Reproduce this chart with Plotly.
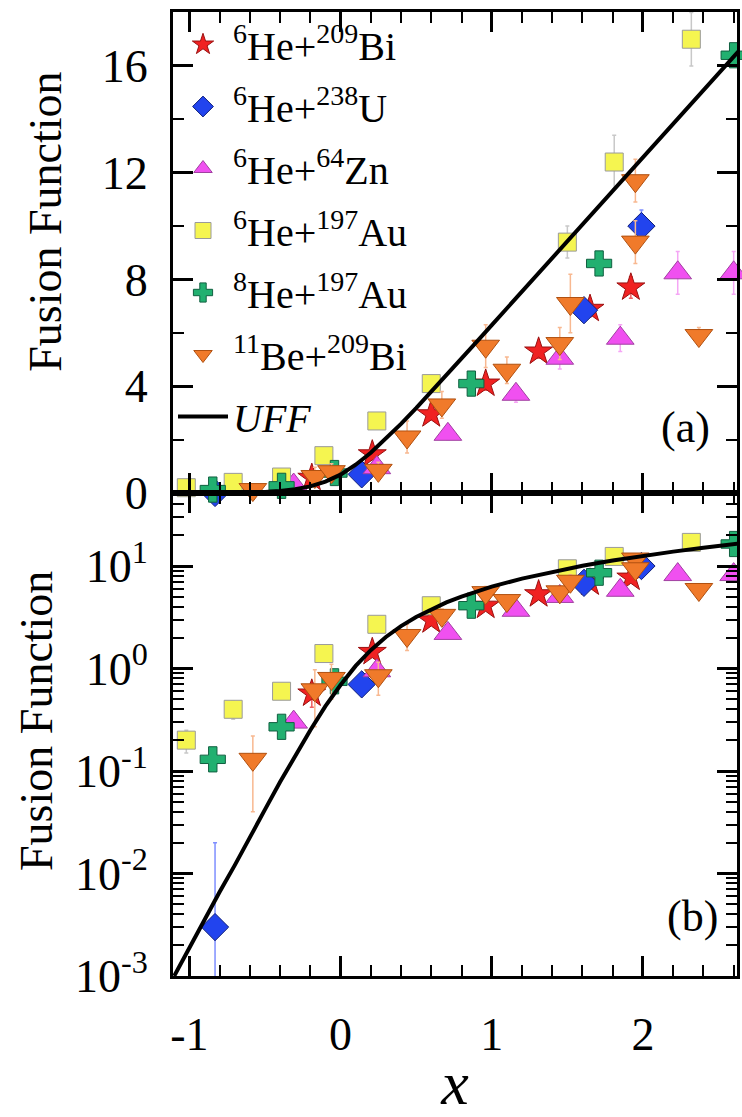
import plotly.graph_objects as go

# ---------------- data ----------------
bi_x = [-0.19, 0.21, 0.60, 0.96, 1.31, 1.65, 1.92]
bi_y = [0.57, 1.45, 2.95, 4.1, 5.3, 6.9, 7.7]
bi_e = [0.15, 0.15, 0.2, 0.25, 0.25, 0.3, 0.4]

u_x = [-0.83, 0.14, 1.61, 1.99]
u_y = [0.003, 0.70, 6.85, 10.0]
u_ep = [0.017, 0.08, 0.3, 0.6]
u_em = [0.0029, 0.08, 0.3, 0.6]

zn_x = [-0.31, 0.24, 0.71, 1.16, 1.45, 1.85, 2.23, 2.60]
zn_y = [0.30, 0.95, 2.2, 3.7, 5.05, 5.8, 8.25, 8.25]
zn_e = [0.03, 0.1, 0.2, 0.3, 0.4, 0.5, 0.8, 0.8]

au6_x = [-1.02, -0.71, -0.39, -0.11, 0.24, 0.60, 1.50, 1.81, 2.32]
au6_y = [0.2, 0.4, 0.6, 1.4, 2.7, 4.1, 9.4, 12.4, 17.0]
au6_e = [0.05, 0.08, 0.1, 0.15, 0.2, 0.3, 0.6, 1.0, 1.0]

au8_x = [-0.845, -0.39, -0.04, 0.865, 1.71, 2.60]
au8_y = [0.13, 0.27, 0.75, 4.1, 8.6, 16.4]
au8_e = [0.03, 0.05, 0.08, 0.2, 0.3, 0.3]

be_x = [-0.58, -0.17, -0.06, 0.25, 0.44, 0.67, 0.96, 1.10, 1.45, 1.52, 1.95, 1.95, 2.37]
be_y = [0.13, 0.62, 0.80, 0.85, 2.1, 3.3, 5.5, 4.6, 5.6, 7.1, 11.7, 9.4, 5.9]
be_e = [0.09, 0.35, 0.3, 0.3, 0.6, 0.5, 0.8, 0.5, 0.6, 1.1, 0.8, 0.8, 0.3]

uff_x = [-1.1, -1.0, -0.9, -0.8, -0.7, -0.6, -0.5, -0.4, -0.3, -0.2, -0.1, 0.0,
         0.1, 0.2, 0.3, 0.4, 0.5, 0.6, 0.7, 0.8, 0.9, 1.0, 1.2, 1.4, 1.6, 1.8,
         2.0, 2.2, 2.4, 2.6, 2.7]
uff_y = [0.001, 0.0019, 0.0035, 0.0066, 0.012, 0.023, 0.042, 0.078, 0.14, 0.25,
         0.43, 0.69, 1.06, 1.51, 2.03, 2.59, 3.18, 3.79, 4.41, 5.03, 5.66, 6.29,
         7.54, 8.80, 10.05, 11.31, 12.57, 13.82, 15.08, 16.34, 16.97]

x_tickvals = [-1, 0, 1, 2]
x_ticktext = ["-1", "0", "1", "2"]
ylin_tickvals = [0, 4, 8, 12, 16]
ylog_tickvals = [0.001, 0.01, 0.1, 1, 10]
ylog_ticktext = ["10<sup>-3</sup>", "10<sup>-2</sup>", "10<sup>-1</sup>",
                 "10<sup>0</sup>", "10<sup>1</sup>"]

FONT = "Liberation Serif"

series = [
    dict(name="<sup>6</sup>He+<sup>209</sup>Bi", x=bi_x, y=bi_y, ep=bi_e, em=bi_e,
         symbol="star", size=21, color="#f02222", line="#9a1010", ecol="#f06060"),
    dict(name="<sup>6</sup>He+<sup>238</sup>U", x=u_x, y=u_y, ep=u_ep, em=u_em,
         symbol="diamond", size=21, color="#2244ee", line="#10207a", ecol="#7f8fff"),
    dict(name="<sup>6</sup>He+<sup>64</sup>Zn", x=zn_x, y=zn_y, ep=zn_e, em=zn_e,
         symbol="triangle-up", size=24, color="#f050f0", line="#a040a0", ecol="#f5a6f5"),
    dict(name="<sup>6</sup>He+<sup>197</sup>Au", x=au6_x, y=au6_y, ep=au6_e, em=au6_e,
         symbol="square", size=18, color="#f5f550", line="#9a9a9a", ecol="#c8c8c8"),
    dict(name="<sup>8</sup>He+<sup>197</sup>Au", x=au8_x, y=au8_y, ep=au8_e, em=au8_e,
         symbol="cross", size=21, color="#22b070", line="#106040", ecol="#90d8b0"),
    dict(name="<sup>11</sup>Be+<sup>209</sup>Bi", x=be_x, y=be_y, ep=be_e, em=be_e,
         symbol="triangle-down", size=24, color="#f07a2a", line="#b05010", ecol="#f8b890"),
]

fig = go.Figure()

for i, s in enumerate(series):
    for panel in (1, 2):
        fig.add_trace(go.Scatter(
            x=s["x"], y=s["y"], mode="markers", name=s["name"],
            legendgroup=f"g{i}", showlegend=(panel == 1),
            xaxis="x" if panel == 1 else "x2",
            yaxis="y" if panel == 1 else "y2",
            cliponaxis=(panel == 2),
            marker=dict(symbol=s["symbol"], size=s["size"], color=s["color"],
                        line=dict(color=s["line"], width=1)),
            error_y=dict(type="data", symmetric=False, array=s["ep"], arrayminus=s["em"],
                         color=s["ecol"], thickness=1.5, width=2),
        ))

for panel in (1, 2):
    fig.add_trace(go.Scatter(
        x=uff_x, y=uff_y, mode="lines", name="<i>UFF</i>",
        legendgroup="guff", showlegend=(panel == 1),
        xaxis="x" if panel == 1 else "x2",
        yaxis="y" if panel == 1 else "y2",
        line=dict(color="black", width=4),
    ))

axis_common = dict(showline=True, linecolor="black", linewidth=3, mirror="allticks",
                   ticks="inside", tickcolor="black", tickwidth=2.5, showgrid=False,
                   zeroline=False)

minor_log = [k * 10 ** d for d in range(-3, 2) for k in range(2, 10) if k * 10 ** d < 52]

minor_common = dict(ticklen=11, tickwidth=2, ticks="inside", tickcolor="black")

fig.update_layout(
    width=742, height=1117,
    margin=dict(l=173, r=2, t=12, b=141),
    paper_bgcolor="white", plot_bgcolor="white",
    font=dict(family=FONT, color="black", size=46),
    showlegend=True,
    legend=dict(x=0.0, y=1.0, xanchor="left", yanchor="top", bgcolor="rgba(0,0,0,0)",
                font=dict(family=FONT, size=40, color="black"),
                itemwidth=50, tracegroupgap=7),
    xaxis=dict(axis_common, anchor="y", domain=[0, 1], range=[-1.108, 2.622],
               tickvals=x_tickvals, ticklen=20, showticklabels=False,
               minor=dict(minor_common, dtick=0.2, tick0=0)),
    xaxis2=dict(axis_common, anchor="y2", domain=[0, 1], range=[-1.108, 2.622],
                tickvals=x_tickvals, ticktext=x_ticktext, ticklen=20,
                tickfont=dict(family=FONT, size=46), ticklabelstandoff=16,
                minor=dict(minor_common, dtick=0.2, tick0=0),
                title=dict(text="<i>x</i>", font=dict(family=FONT, size=62), standoff=8)),
    yaxis=dict(axis_common, domain=[0.501, 1], range=[0.0, 18.02], anchor="x",
               tickvals=ylin_tickvals, ticklen=20, tickfont=dict(family=FONT, size=46),
               ticklabelstandoff=13,
               minor=dict(minor_common, dtick=2, tick0=0)),
    yaxis2=dict(axis_common, type="log", domain=[0, 0.501], range=[-3, 1.712], anchor="x2",
                tickvals=ylog_tickvals, ticktext=ylog_ticktext, ticklen=20,
                tickfont=dict(family=FONT, size=46), ticklabelstandoff=13,
                minor=dict(minor_common, tickvals=minor_log)),
    annotations=[
        dict(text="Fusion Function", xref="paper", yref="paper", x=-0.2275, y=0.782,
             textangle=-90, showarrow=False, font=dict(family=FONT, size=46),
             xanchor="center", yanchor="middle"),
        dict(text="Fusion Function", xref="paper", yref="paper", x=-0.243, y=0.2645,
             textangle=-90, showarrow=False, font=dict(family=FONT, size=46),
             xanchor="center", yanchor="middle"),
        dict(text="(a)", xref="x", yref="y", x=2.28, y=2.47, showarrow=False,
             font=dict(family=FONT, size=44)),
        dict(text="(b)", xref="x2", yref="y2", x=2.33, y=-2.42, showarrow=False,
             font=dict(family=FONT, size=44)),
    ],
)

fig.write_html("out.html")
